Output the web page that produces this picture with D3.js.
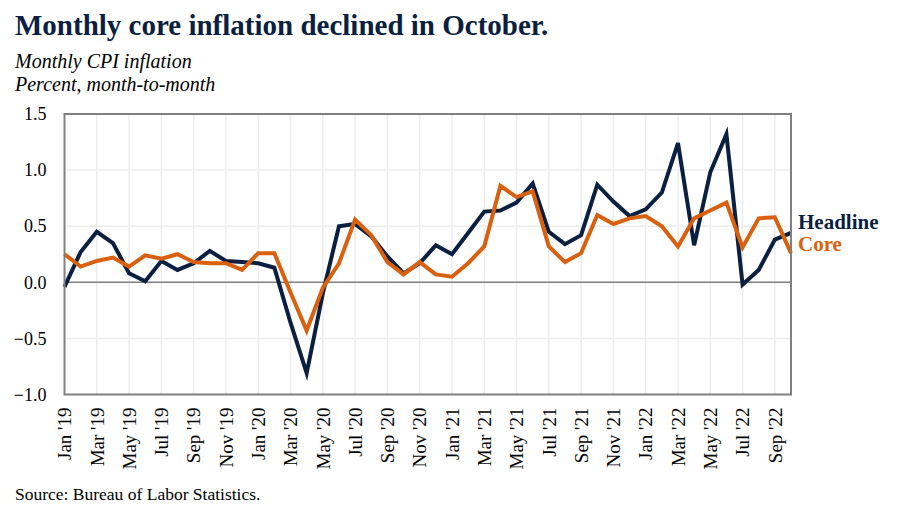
<!DOCTYPE html>
<html><head><meta charset="utf-8">
<script src="https://cdn.jsdelivr.net/npm/d3@7"></script>
<style>body{margin:0;background:#fff;} svg{display:block;}</style>
</head><body>
<svg id="c" width="900" height="514"></svg>
<script>
const months = ["Jan '19","Feb '19","Mar '19","Apr '19","May '19","Jun '19","Jul '19","Aug '19","Sep '19","Oct '19","Nov '19","Dec '19",
"Jan '20","Feb '20","Mar '20","Apr '20","May '20","Jun '20","Jul '20","Aug '20","Sep '20","Oct '20","Nov '20","Dec '20",
"Jan '21","Feb '21","Mar '21","Apr '21","May '21","Jun '21","Jul '21","Aug '21","Sep '21","Oct '21","Nov '21","Dec '21",
"Jan '22","Feb '22","Mar '22","Apr '22","May '22","Jun '22","Jul '22","Aug '22","Sep '22","Oct '22"];
const headline = [-0.04,0.27,0.45,0.35,0.08,0.01,0.19,0.11,0.17,0.28,0.19,0.18,
0.17,0.13,-0.36,-0.81,-0.10,0.50,0.52,0.41,0.23,0.08,0.17,0.33,
0.25,0.44,0.63,0.64,0.71,0.88,0.45,0.34,0.42,0.87,0.72,0.59,
0.65,0.80,1.24,0.33,0.98,1.32,-0.02,0.11,0.38,0.44];
const core = [0.25,0.14,0.19,0.22,0.14,0.24,0.21,0.25,0.18,0.17,0.17,0.11,
0.26,0.26,-0.09,-0.43,-0.05,0.17,0.56,0.42,0.18,0.07,0.18,0.07,
0.05,0.17,0.32,0.86,0.76,0.81,0.32,0.18,0.26,0.60,0.52,0.57,
0.59,0.50,0.32,0.57,0.64,0.71,0.31,0.57,0.58,0.26];
const yTicks = [1.5,1.0,0.5,0.0,-0.5,-1.0];

const navy = "#0b1f41", orange = "#d9600f";
const svg = d3.select("#c");
const L = 64.5, R = 791, T = 114, B = 394.5;
const x = d3.scaleLinear().domain([0, months.length-1]).range([L, R]);
const y = d3.scaleLinear().domain([-1, 1.5]).range([B, T]);
const serif = "Liberation Serif, Times New Roman, serif";

svg.append("text").attr("x",15).attr("y",35).attr("font-family",serif).attr("font-weight","bold")
  .attr("font-size",29).attr("fill",navy).text("Monthly core inflation declined in October.");
svg.append("text").attr("x",15).attr("y",68).attr("font-family",serif).attr("font-style","italic")
  .attr("font-size",20).attr("fill","#000").text("Monthly CPI inflation");
svg.append("text").attr("x",15).attr("y",91).attr("font-family",serif).attr("font-style","italic")
  .attr("font-size",20).attr("fill","#000").text("Percent, month-to-month");

// gridlines
const labIdx = d3.range(0, months.length, 2);
svg.append("g").selectAll("line").data(labIdx.filter(i=>i>0)).join("line")
  .attr("x1",i=>x(i)).attr("x2",i=>x(i)).attr("y1",T).attr("y2",B)
  .attr("stroke","#ededed").attr("stroke-width",1.5);
svg.append("g").selectAll("line").data(yTicks.filter(v=>v!==0 && v!==1.5 && v!==-1)).join("line")
  .attr("x1",L).attr("x2",R).attr("y1",v=>y(v)).attr("y2",v=>y(v))
  .attr("stroke","#ededed").attr("stroke-width",1.5);
svg.append("line").attr("x1",L).attr("x2",R).attr("y1",y(0)).attr("y2",y(0))
  .attr("stroke","#7f7f7f").attr("stroke-width",1.5);

// y axis labels
const yAxis = d3.axisLeft(y).tickValues(yTicks).tickFormat(d3.format(".1f")).tickSize(0).tickPadding(18);
const gy = svg.append("g").attr("transform",`translate(${L},0)`).call(yAxis);
gy.select(".domain").remove();
gy.attr("font-family",serif).attr("font-size",18);
gy.selectAll("text").attr("font-family",serif).attr("font-size",18).attr("fill","#000");

// x axis labels
const xAxis = d3.axisBottom(x).tickValues(labIdx).tickFormat(i=>months[i]).tickSize(0);
const gx = svg.append("g").attr("transform",`translate(0,${B})`).call(xAxis);
gx.select(".domain").remove();
gx.attr("font-family",serif).attr("font-size",19);
gx.selectAll("text").attr("font-family",serif).attr("font-size",19).attr("fill","#000")
  .attr("transform","rotate(-90)").attr("text-anchor","end").attr("x",-13).attr("y",0).attr("dy","0.33em");

// lines
const line = d3.line().x((d,i)=>x(i)).y(d=>y(d));
svg.append("path").datum(headline).attr("d",line).attr("fill","none").attr("stroke",navy)
  .attr("stroke-width",4).attr("stroke-linejoin","miter");
svg.append("path").datum(core).attr("d",line).attr("fill","none").attr("stroke",orange)
  .attr("stroke-width",4).attr("stroke-linejoin","miter");

// frame
svg.append("rect").attr("x",L).attr("y",T).attr("width",R-L).attr("height",B-T)
  .attr("fill","none").attr("stroke","#808080").attr("stroke-width",2);

// legend labels
svg.append("text").attr("x",798).attr("y",229).attr("font-family",serif).attr("font-weight","bold")
  .attr("font-size",21).attr("fill",navy).text("Headline");
svg.append("text").attr("x",798).attr("y",251).attr("font-family",serif).attr("font-weight","bold")
  .attr("font-size",21).attr("fill",orange).text("Core");

svg.append("text").attr("x",15).attr("y",500).attr("font-family",serif)
  .attr("font-size",17.5).attr("fill","#000").text("Source: Bureau of Labor Statistics.");
</script>
</body></html>
